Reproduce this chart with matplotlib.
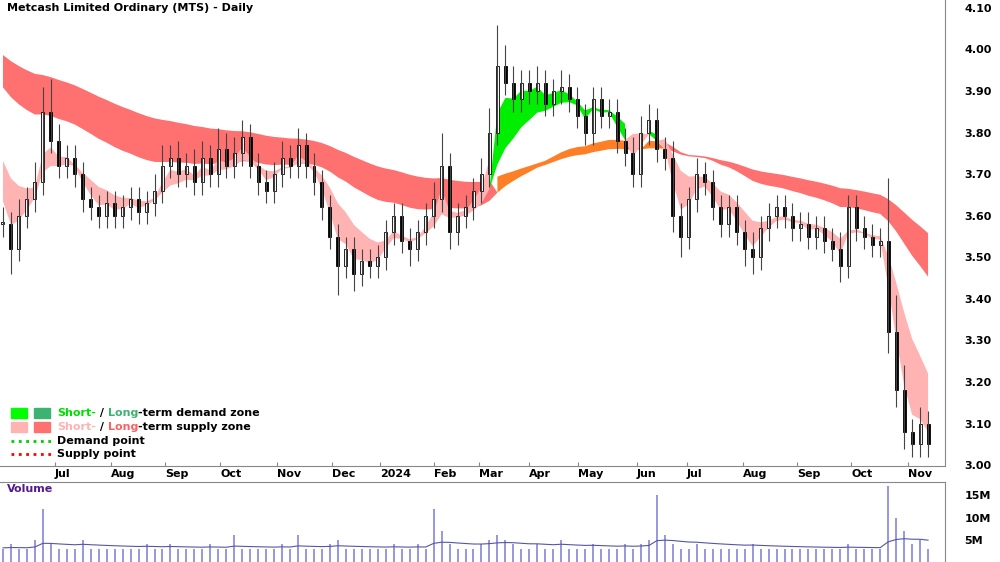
import matplotlib.pyplot as plt
import numpy as np

# one bar = ~3 trading days, x in px-like units (8 per bar)
closes = [3.58, 3.52, 3.60, 3.64, 3.68, 3.85, 3.78, 3.72, 3.74, 3.70, 3.64, 3.62, 3.60, 3.63, 3.60, 3.62,
          3.64, 3.61, 3.63, 3.66, 3.72, 3.74, 3.70, 3.72, 3.68, 3.74, 3.70, 3.76, 3.72, 3.75, 3.79, 3.72,
          3.68, 3.66, 3.70, 3.74, 3.72, 3.77, 3.72, 3.68, 3.62, 3.55, 3.48, 3.52, 3.46, 3.49, 3.48, 3.50,
          3.56, 3.60, 3.54, 3.52, 3.56, 3.60, 3.64, 3.72, 3.56, 3.60, 3.62, 3.66, 3.70, 3.80, 3.96, 3.92,
          3.88, 3.92, 3.90, 3.92, 3.87, 3.90, 3.91, 3.88, 3.84, 3.80, 3.88, 3.84, 3.85, 3.78, 3.75, 3.70,
          3.80, 3.83, 3.76, 3.74, 3.60, 3.55, 3.64, 3.70, 3.68, 3.62, 3.58, 3.62, 3.56, 3.52, 3.50, 3.57,
          3.60, 3.62, 3.60, 3.57, 3.58, 3.55, 3.57, 3.54, 3.52, 3.48, 3.62, 3.57, 3.55, 3.53, 3.54, 3.32,
          3.18, 3.08, 3.05, 3.10, 3.05]
hi_ext = [4, 3, 4, 3, 5, 6, 8, 4, 3, 3, 3, 3, 3, 3, 3, 3,
          3, 3, 3, 4, 5, 3, 4, 3, 4, 4, 3, 5, 4, 4, 4, 3,
          3, 3, 3, 4, 3, 4, 3, 3, 3, 3, 3, 3, 3, 3, 3, 3,
          3, 3, 3, 3, 3, 3, 4, 8, 3, 3, 3, 3, 4, 6, 10, 5,
          4, 3, 3, 4, 3, 3, 4, 3, 3, 3, 3, 3, 3, 3, 3, 4,
          4, 4, 3, 3, 4, 3, 3, 4, 3, 3, 3, 3, 3, 3, 4, 3,
          3, 3, 3, 3, 3, 3, 3, 3, 3, 4, 3, 3, 3, 3, 3, 15,
          9, 6, 3, 4, 3]
lo_ext = [3, 6, 3, 3, 3, 3, 3, 3, 3, 3, 3, 3, 3, 3, 3, 3,
          3, 3, 3, 3, 3, 3, 3, 3, 3, 3, 3, 3, 3, 3, 3, 3,
          3, 3, 3, 3, 3, 3, 3, 3, 3, 3, 7, 3, 4, 3, 3, 3,
          3, 3, 3, 4, 3, 3, 3, 3, 4, 3, 3, 3, 3, 3, 3, 3,
          3, 3, 3, 3, 3, 3, 3, 3, 3, 3, 3, 3, 3, 3, 3, 3,
          3, 3, 3, 3, 4, 5, 3, 3, 3, 3, 3, 3, 3, 4, 4, 3,
          3, 3, 3, 3, 3, 3, 3, 3, 3, 4, 3, 3, 3, 3, 3, 5,
          4, 4, 3, 3, 3]
volume = [3, 4, 3, 3, 5, 12, 4, 3, 3, 3, 5, 3, 3, 3, 3, 3,
          3, 3, 4, 3, 3, 4, 3, 3, 3, 3, 4, 3, 3, 6, 3, 3,
          3, 3, 3, 4, 3, 6, 3, 3, 3, 4, 5, 3, 3, 3, 3, 3,
          3, 4, 3, 3, 4, 3, 12, 7, 4, 3, 3, 3, 4, 5, 6, 5,
          4, 3, 3, 4, 3, 3, 5, 3, 3, 3, 4, 3, 3, 3, 4, 3,
          4, 5, 15, 6, 4, 3, 3, 4, 3, 3, 3, 3, 3, 3, 4, 3,
          3, 3, 3, 3, 3, 3, 3, 3, 3, 3, 4, 3, 3, 3, 3, 17,
          10, 7, 4, 5, 3]

month_labels = ['Jul', 'Aug', 'Sep', 'Oct', 'Nov', 'Dec', '2024', 'Feb', 'Mar', 'Apr', 'May', 'Jun',
                'Jul', 'Aug', 'Sep', 'Oct', 'Nov']
month_pos = [52, 108, 163, 218, 275, 330, 378, 432, 478, 528, 577, 636, 686, 742, 797, 851, 908]

short_spans = [3, 4, 6, 9]
long_spans = [32, 40, 50, 62]
short_seed = [3.69, 3.72, 3.74, 3.77]
long_seed = [3.93, 3.95, 3.97, 4.00]
vol_seed = 3.2


def ema(vals, span, seed):
    a = 2 / (span + 1)
    out, e = [], seed
    for v in vals:
        e = a * v + (1 - a) * e
        out.append(e)
    return np.array(out)


c = np.array(closes)
x = np.arange(len(c)) * 8.0
o = np.r_[c[0], c[:-1]]
h = np.maximum(o, c) + np.array(hi_ext) / 100
lo = np.minimum(o, c) - np.array(lo_ext) / 100

se = np.array([ema(c, s, d) for s, d in zip(short_spans, short_seed)])
le = np.array([ema(c, s, d) for s, d in zip(long_spans, long_seed)])
s_top, s_bot = se.max(0), se.min(0)
l_top, l_bot = le.max(0), le.min(0)
up = s_bot > l_top

fig = plt.figure(figsize=(10, 5.62), dpi=100)
ax = fig.add_axes([0, 1 - 466 / 562, 0.945, 466 / 562])
av = fig.add_axes([0, 0, 0.945, 80 / 562])

ax.fill_between(x, l_bot, l_top, color='#ff7070', lw=0, where=~up, interpolate=True)
ax.fill_between(x, l_bot, l_top, color='#ff7f27', lw=0, where=up, interpolate=True)
ax.fill_between(x, s_bot, s_top, color='#ffb3b3', lw=0, where=~up, interpolate=True)
ax.fill_between(x, s_bot, s_top, color='#00ee00', lw=0, where=up, interpolate=True)

for xi, oi, ci, hi, li in zip(x, o, c, h, lo):
    ax.vlines(xi, li, hi, color='#444444', lw=0.8)
    ax.bar(xi, max(abs(ci - oi), 0.004), bottom=min(oi, ci), width=3,
           color='black' if ci < oi else 'white', edgecolor='black', lw=0.6)

ax.set_xlim(-3, 945)
ax.set_ylim(2.998, 4.119)
ax.yaxis.tick_right()
ax.set_yticks(np.arange(3.0, 4.11, 0.1))
ax.set_yticklabels([f'{v:.2f}' for v in np.arange(3.0, 4.11, 0.1)], fontweight='bold', fontsize=8)
ax.tick_params(axis='y', length=0, pad=14)
ax.set_xticks(month_pos)
ax.set_xticklabels(month_labels, fontweight='bold', fontsize=8, ha='left')
ax.tick_params(axis='x', direction='in', length=3, pad=2, color='#888888')
for s in ['top', 'left']:
    ax.spines[s].set_visible(False)
ax.spines['right'].set_color('#888888')
ax.spines['bottom'].set_color('#888888')
ax.text(4, 4.10, 'Metcash Limited Ordinary (MTS) - Daily', fontweight='bold', fontsize=8, va='center')

# legend
ly = [413, 427, 441, 454]


def py(y):
    return 4.119 - y / 466 * (4.119 - 2.998)


for xs, cl in [(8, '#00ff00'), (31, '#3cb371')]:
    ax.add_patch(plt.Rectangle((xs, py(ly[0] + 5)), 16, py(ly[0] - 5) - py(ly[0] + 5), color=cl))
for xs, cl in [(8, '#ffb3b3'), (31, '#ff7070')]:
    ax.add_patch(plt.Rectangle((xs, py(ly[1] + 5)), 16, py(ly[1] - 5) - py(ly[1] + 5), color=cl))
ax.plot([8, 48], [py(ly[2])] * 2, color='#00cc00', ls=':', lw=2)
ax.plot([8, 48], [py(ly[3])] * 2, color='red', ls=':', lw=2)
fs = 8
t = ax.text(54, py(ly[0]), 'Short-', color='#00dd00', fontsize=fs, fontweight='bold', va='center')
t = ax.annotate(' / ', xycoords=t, xy=(1, 0.5), va='center', fontsize=fs, fontweight='bold')
t = ax.annotate('Long', xycoords=t, xy=(1, 0.5), va='center', fontsize=fs, fontweight='bold', color='#3cb371')
ax.annotate('-term demand zone', xycoords=t, xy=(1, 0.5), va='center', fontsize=fs, fontweight='bold')
t = ax.text(54, py(ly[1]), 'Short-', color='#ffb3b3', fontsize=fs, fontweight='bold', va='center')
t = ax.annotate(' / ', xycoords=t, xy=(1, 0.5), va='center', fontsize=fs, fontweight='bold')
t = ax.annotate('Long', xycoords=t, xy=(1, 0.5), va='center', fontsize=fs, fontweight='bold', color='#ff6060')
ax.annotate('-term supply zone', xycoords=t, xy=(1, 0.5), va='center', fontsize=fs, fontweight='bold')
ax.text(54, py(ly[2]), 'Demand point', fontsize=fs, fontweight='bold', va='center')
ax.text(54, py(ly[3]), 'Supply point', fontsize=fs, fontweight='bold', va='center')

# volume
av.bar(x, volume, width=2, color='#9999dd')
av.plot(x, ema(volume, 20, vol_seed), color='#5555aa', lw=0.8)
av.set_xlim(-3, 945)
av.set_ylim(0, 18)
av.yaxis.tick_right()
av.set_yticks([5, 10, 15])
av.set_yticklabels(['5M', '10M', '15M'], fontweight='bold', fontsize=8)
av.tick_params(axis='y', length=0, pad=14)
av.set_xticks([])
for s in ['left', 'bottom']:
    av.spines[s].set_visible(False)
av.spines['right'].set_color('#888888')
av.spines['top'].set_color('#888888')
av.text(4, 16.5, 'Volume', color='#551a8b', fontweight='bold', fontsize=8, va='center')

fig.savefig('out.png')
